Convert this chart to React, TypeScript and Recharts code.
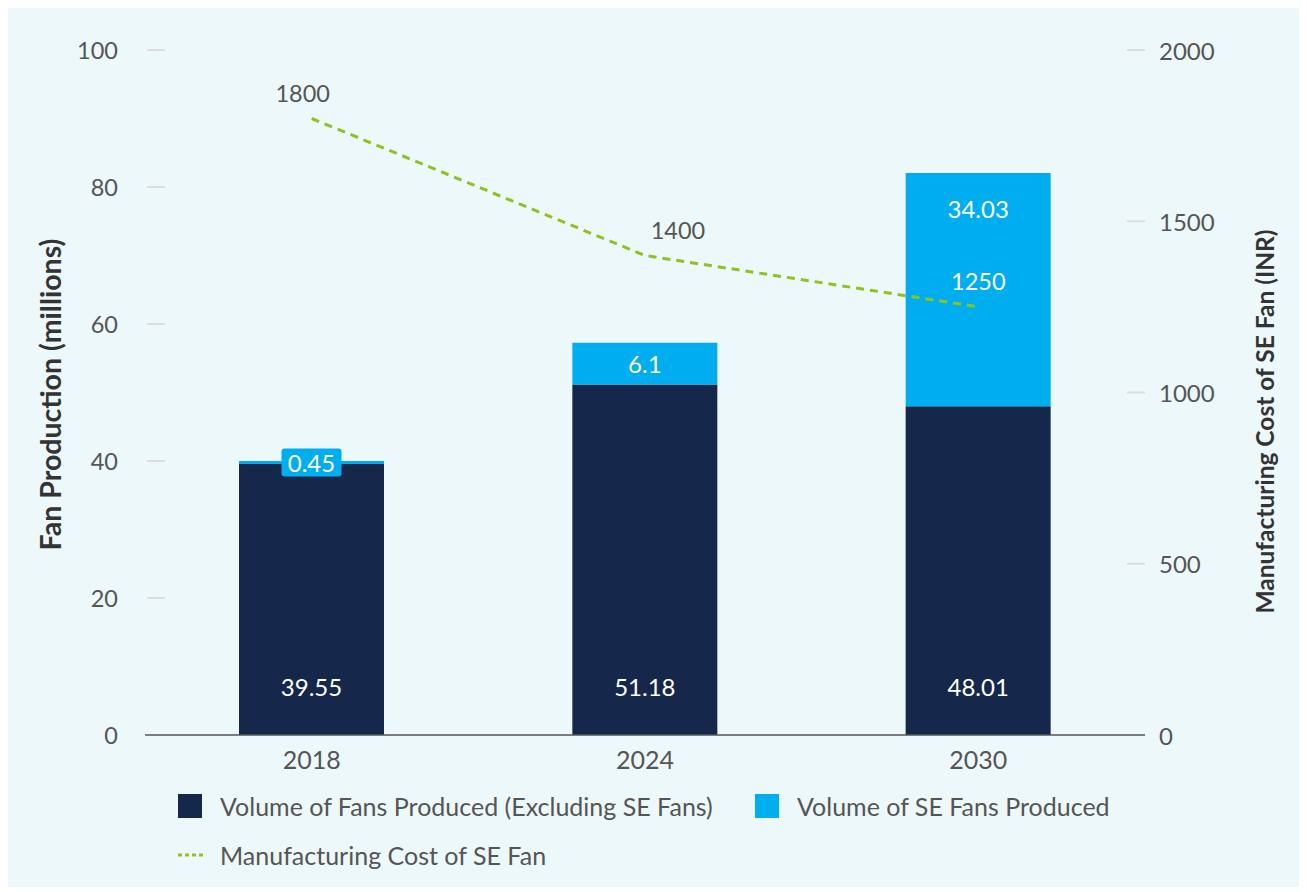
import { ComposedChart, Bar, Line, XAxis, YAxis, LabelList, Label } from 'recharts';

const years = ['2018', '2024', '2030'];
const nonSeVolume = [39.55, 51.18, 48.01];
const seVolume = [0.45, 6.1, 34.03];
const seFanCost = [1800, 1400, 1250];
const leftTicks = [0, 20, 40, 60, 80, 100];
const rightTicks = [0, 500, 1000, 1500, 2000];
const seriesNames = [
  'Volume of Fans Produced (Excluding SE Fans)',
  'Volume of SE Fans Produced',
  'Manufacturing Cost of SE Fan',
];

const NAVY = '#15284b';
const CYAN = '#00aeef';
const GREEN = '#8dc21f';
const TEXT = '#555555';

// cost labels are nudged by hand in the original, and the last one sits on the cyan bar
const costLabelDx = [-9, 33, 0];
const costLabelFill = [TEXT, TEXT, '#ffffff'];

const data = years.map((year, i) => ({
  year,
  nonSe: nonSeVolume[i],
  se: seVolume[i],
  cost: seFanCost[i],
}));

const LeftTick = ({ x, y, payload }: any) => (
  <g>
    {payload.value !== 0 && (
      <line x1={x + 2} x2={x + 20} y1={y} y2={y} stroke="#dcdcdc" strokeWidth={2} />
    )}
    <text x={x - 27} y={y} textAnchor="end" dominantBaseline="central" fill={TEXT} fontSize={23.5}>
      {payload.value}
    </text>
  </g>
);

const RightTick = ({ x, y, payload }: any) => (
  <g>
    {payload.value !== 0 && (
      <line x1={x - 18} x2={x} y1={y} y2={y} stroke="#dcdcdc" strokeWidth={2} />
    )}
    <text x={x + 14} y={y} textAnchor="start" dominantBaseline="central" fill={TEXT} fontSize={24}>
      {payload.value}
    </text>
  </g>
);

const DarkLabel = ({ x, y, width, height, value }: any) => (
  <text
    x={x + width / 2}
    y={y + height - 49}
    textAnchor="middle"
    dominantBaseline="central"
    fill="#fff"
    fontSize={24}
  >
    {value}
  </text>
);

const SeLabel = ({ x, y, width, height, value }: any) => {
  const cx = x + width / 2;
  if (height < 12) {
    const cy = y + height / 2;
    return (
      <g>
        <rect x={cx - 30} y={cy - 14} width={60} height={28} rx={3} fill={CYAN} />
        <text x={cx} y={cy} textAnchor="middle" dominantBaseline="central" fill="#fff" fontSize={24}>
          {value}
        </text>
      </g>
    );
  }
  const cy = height < 70 ? y + height / 2 : y + 35;
  return (
    <text x={cx} y={cy} textAnchor="middle" dominantBaseline="central" fill="#fff" fontSize={24}>
      {value}
    </text>
  );
};

const CostLabel = ({ x, y, value, index }: any) => (
  <text
    x={x + costLabelDx[index]}
    y={y - 26}
    textAnchor="middle"
    dominantBaseline="central"
    fill={costLabelFill[index]}
    fontSize={23.5}
  >
    {value}
  </text>
);

const axisTitle = (text: string, dx: number, dy: number, size: number) => (props: any) => {
  const vb = props.viewBox || {};
  const cx = vb.x + dx;
  const cy = vb.y + vb.height / 2 + dy;
  return (
    <text
      x={cx}
      y={cy}
      transform={`rotate(-90, ${cx}, ${cy})`}
      textAnchor="middle"
      dominantBaseline="central"
      fill="#333"
      fontSize={size}
      fontWeight={700}
    >
      {text}
    </text>
  );
};

const legendText = { marginLeft: 18, whiteSpace: 'nowrap' as const };

export default function App() {
  return (
    <div
      style={{
        position: 'relative',
        marginLeft: -3,
        marginTop: -1,
        width: 1295,
        height: 880,
        background: '#edf8fa',
        fontFamily: 'Lato, sans-serif',
      }}
    >
      <ComposedChart
        width={1295}
        height={880}
        data={data}
        margin={{ top: 43, right: 0, bottom: 112, left: 0 }}
      >
        <XAxis
          dataKey="year"
          height={40}
          tickLine={false}
          tickSize={0}
          tickMargin={16}
          axisLine={{ stroke: TEXT, strokeWidth: 1.5 }}
          tick={{ fill: TEXT, fontSize: 25 }}
        />
        <YAxis
          yAxisId="left"
          width={140}
          domain={[0, 100]}
          ticks={leftTicks}
          axisLine={false}
          tickLine={false}
          tickSize={0}
          tickMargin={0}
          tick={<LeftTick />}
        >
          <Label content={axisTitle('Fan Production (millions)', 45, 2, 28.5)} />
        </YAxis>
        <YAxis
          yAxisId="right"
          orientation="right"
          width={155}
          domain={[0, 2000]}
          ticks={rightTicks}
          axisLine={false}
          tickLine={false}
          tickSize={0}
          tickMargin={0}
          tick={<RightTick />}
        >
          <Label content={axisTitle('Manufacturing Cost of SE Fan (INR)', 119, 29, 24.5)} />
        </YAxis>
        <Bar yAxisId="left" dataKey="nonSe" stackId="v" fill={NAVY} barSize={145} isAnimationActive={false}>
          <LabelList dataKey="nonSe" content={<DarkLabel />} />
        </Bar>
        <Bar yAxisId="left" dataKey="se" stackId="v" fill={CYAN} barSize={145} isAnimationActive={false}>
          <LabelList dataKey="se" content={<SeLabel />} />
        </Bar>
        <Line
          yAxisId="right"
          dataKey="cost"
          type="linear"
          stroke={GREEN}
          strokeWidth={3}
          strokeDasharray="8 6"
          dot={false}
          isAnimationActive={false}
        >
          <LabelList dataKey="cost" content={<CostLabel />} />
        </Line>
      </ComposedChart>

      <div style={{ position: 'absolute', left: 173, top: 787, width: 1100, height: 90, color: TEXT, fontSize: 25 }}>
        <div style={{ position: 'absolute', left: 0, top: 0, display: 'flex', alignItems: 'center', height: 24 }}>
          <span style={{ width: 24, height: 24, background: NAVY, display: 'inline-block' }} />
          <span style={legendText}>{seriesNames[0]}</span>
        </div>
        <div style={{ position: 'absolute', left: 577, top: 0, display: 'flex', alignItems: 'center', height: 24 }}>
          <span style={{ width: 24, height: 24, background: CYAN, display: 'inline-block' }} />
          <span style={legendText}>{seriesNames[1]}</span>
        </div>
        <div style={{ position: 'absolute', left: 0, top: 49, display: 'flex', alignItems: 'center', height: 24 }}>
          <svg width={28} height={6}>
            <line x1={0} x2={28} y1={3} y2={3} stroke={GREEN} strokeWidth={3} strokeDasharray="4 3" />
          </svg>
          <span style={{ ...legendText, marginLeft: 14 }}>{seriesNames[2]}</span>
        </div>
      </div>
    </div>
  );
}
